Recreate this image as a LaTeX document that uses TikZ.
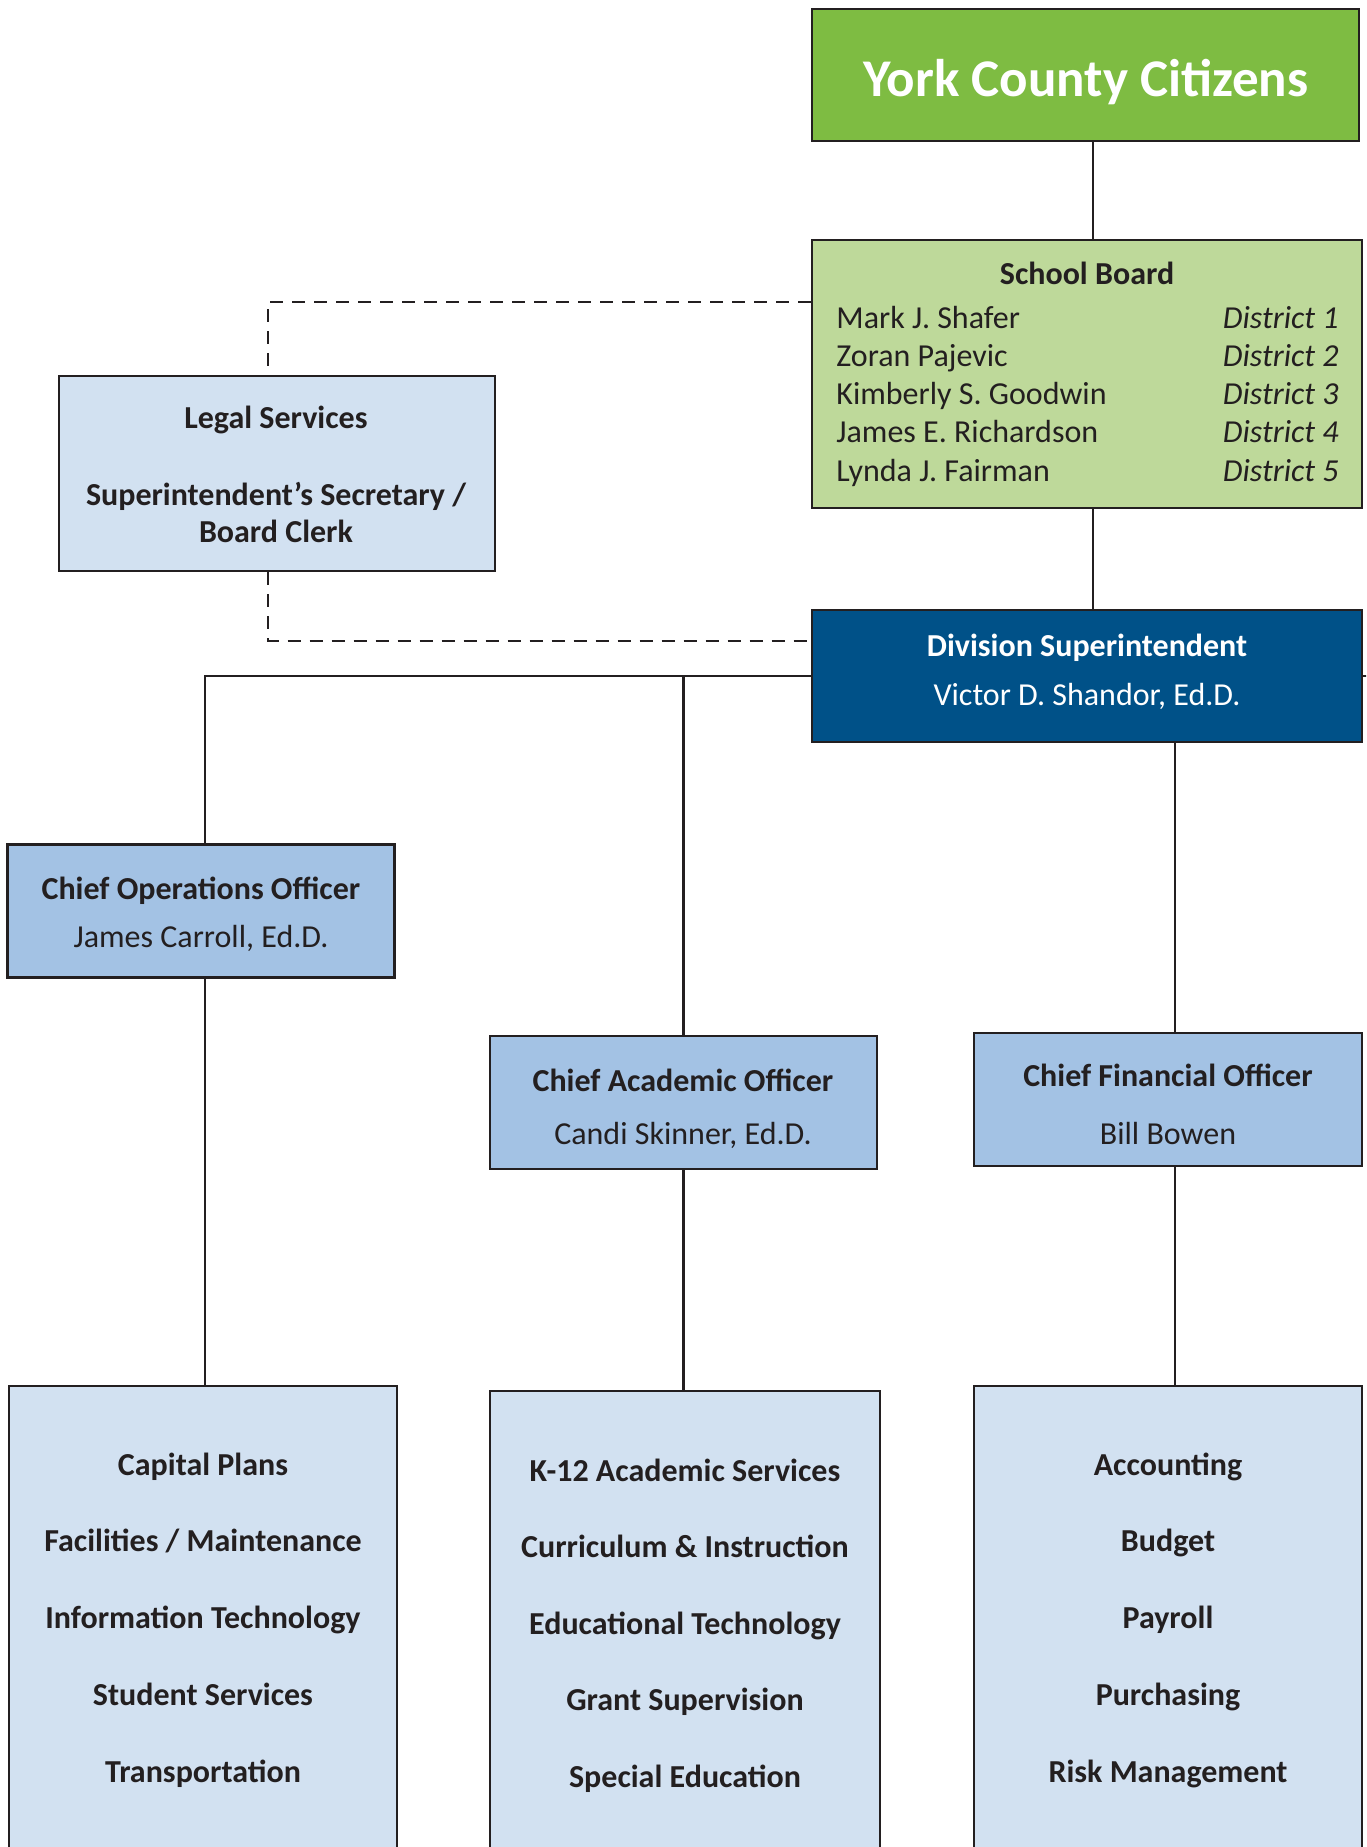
\documentclass[tikz,border=0pt]{standalone}
\usepackage{fontspec}
\setmainfont{Carlito}
\usepackage{tikz}
\usetikzlibrary{calc, positioning}

\definecolor{citizengreen}{RGB}{126,188,66}
\definecolor{boardgreen}{RGB}{190,217,154}
\definecolor{supblue}{RGB}{0,81,136}
\definecolor{chiefblue}{RGB}{163,194,228}
\definecolor{unitblue}{RGB}{210,225,241}
\definecolor{inkgray}{RGB}{35,31,32}

\begin{document}
\begin{tikzpicture}[x=0.5pt, y=-0.5pt,
    box/.style={draw=inkgray, line width=1.25pt, inner sep=0pt},
    chief/.style={box, fill=chiefblue, minimum width=193.5pt, minimum height=66.5pt},
    units/.style={box, fill=unitblue, minimum width=194pt, minimum height=300pt},
    link/.style={draw=inkgray, line width=1.1pt},
    dashlink/.style={link, dash pattern=on 6.5pt off 4.5pt},
    item/.style={anchor=base, inner sep=0pt, text=inkgray, font=\bfseries\fontsize{16}{19.2}\selectfont},
    member/.style={anchor=base, inner sep=0pt, text=inkgray, font=\fontsize{16}{19.2}\selectfont}]

    % Page
    \clip (0,0) rectangle (1366,1847);

    % Citizens and board
    \node[box, fill=citizengreen, minimum width=273.5pt, minimum height=66pt] (york) at (1085.5,75) {};
    \node[item, text=white, font=\bfseries\fontsize{26.5}{30}\selectfont] (yorktext) at (1086,96) {York County Citizens};
    \node[box, fill=boardgreen, minimum width=275pt, minimum height=134pt] (board) at (1087,374) {};
    \node[item] (boardtitle) at (1087,284) {School Board};
    \foreach \who/\where [count=\i] in {Mark J. Shafer/District 1, Zoran Pajevic/District 2,
        Kimberly S. Goodwin/District 3, James E. Richardson/District 4, Lynda J. Fairman/District 5}{
        \node[member, anchor=base west] (name\i) at (836,{328+38.25*(\i-1)}) {\who};
        \node[member, anchor=base east] (district\i) at (1339,{328+38.25*(\i-1)}) {\itshape\where};
    }

    % Superintendent and legal
    \node[box, fill=supblue, minimum width=275pt, minimum height=66pt] (super) at (1087,676) {};
    \node[item, text=white] (supertitle) at (1087,656) {Division Superintendent};
    \node[member, text=white] (supername) at (1087,705) {Victor D. Shandor, Ed.D.};
    \node[box, fill=unitblue, minimum width=218pt, minimum height=97.5pt] (legal) at (277,473.5) {};
    \node[item] (legal1) at (276,428) {Legal Services};
    \node[item] (legal2) at (276,505) {Superintendent’s Secretary /};
    \node[item] (legal3) at (276,542) {Board Clerk};

    % Chiefs
    \node[chief] (coo) at (201,911) {};
    \node[item] (cootitle) at (201,899) {Chief Operations Officer};
    \node[member] (cooname) at (201,947) {James Carroll, Ed.D.};
    \node[chief] (cao) at (683.5,1102.5) {};
    \node[item] (caotitle) at (683,1091) {Chief Academic Officer};
    \node[member] (caoname) at (683,1144) {Candi Skinner, Ed.D.};
    \node[chief, minimum width=194pt] (cfo) at (1168,1099.5) {};
    \node[item] (cfotitle) at (1168,1086) {Chief Financial Officer};
    \node[member] (cfoname) at (1168,1144) {Bill Bowen};

    % Departments
    \node[units] (opsunits) at (203,1686) {};
    \node[units, minimum width=195pt] (acadunits) at (685,1691) {};
    \node[units] (finunits) at (1168,1686) {};
    \foreach \t [count=\i] in {Capital Plans, Facilities / Maintenance, Information Technology,
        Student Services, Transportation}
        \node[item] (ops\i) at (203,{1475+76.75*(\i-1)}) {\t};
    \foreach \t [count=\i] in {K-12 Academic Services, Curriculum \& Instruction, Educational Technology,
        Grant Supervision, Special Education}
        \node[item] (acad\i) at (685,{1481+76.5*(\i-1)}) {\t};
    \foreach \t [count=\i] in {Accounting, Budget, Payroll, Purchasing, Risk Management}
        \node[item] (fin\i) at (1168,{1475+76.75*(\i-1)}) {\t};

    % Connectors
    \coordinate (spine) at (1093,0);
    \coordinate (opsline) at (205,0);
    \coordinate (finline) at (1175,0);
    \draw[link] (york.south -| spine) -- (board.north -| spine);
    \draw[link] (board.south -| spine) -- (super.north -| spine);
    \draw[link] (coo.north -| opsline) |- (super.west);
    \draw[link] (cao.north) -- (cao.north |- super.west);
    \draw[link] (super.east) -- ++(4,0);
    \draw[link] (super.south -| finline) -- (cfo.north -| finline);
    \draw[link] (coo.south -| opsline) -- (opsunits.north -| opsline);
    \draw[link] (cao.south) -- (cao.south |- acadunits.north);
    \draw[link] (cfo.south -| finline) -- (finunits.north -| finline);
    % Staff links
    \coordinate (staffline) at (268,0);
    \draw[dashlink] ($(board.north west)+(0,63)$) -| (legal.north -| staffline);
    \draw[dashlink] (legal.south -| staffline) |- ($(super.north west)+(0,32)$);
\end{tikzpicture}
\end{document}
